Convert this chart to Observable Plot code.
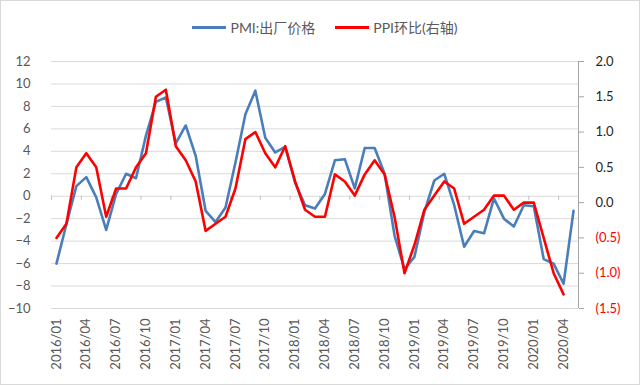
<!DOCTYPE html>
<html>
<head>
<meta charset="utf-8">
<script src="https://cdn.jsdelivr.net/npm/d3@7"></script>
<script src="https://cdn.jsdelivr.net/npm/@observablehq/plot@0.6"></script>
<style>
  html, body { margin: 0; padding: 0; background: #fff; }
  #wrap { position: relative; width: 640px; height: 385px; overflow: hidden; font-family: Lato, "Noto Sans CJK SC", sans-serif; }
  #border { position: absolute; left: 0; top: 0; width: 640px; height: 385px; box-sizing: border-box; border: 1px solid #d9d9d9; pointer-events: none; }
  #legend { position: absolute; top: 17px; left: 0; width: 650px; display: flex; justify-content: center; gap: 20px; font-size: 14px; color: #595959; }
  .item { display: flex; align-items: center; gap: 4px; }
  .sw { display: inline-block; width: 34px; height: 3px; }
</style>
</head>
<body>
<div id="wrap">
  <div id="legend"></div>
  <div id="border"></div>
</div>
<script>
const months = ["2016/01","2016/02","2016/03","2016/04","2016/05","2016/06","2016/07","2016/08","2016/09","2016/10","2016/11","2016/12",
"2017/01","2017/02","2017/03","2017/04","2017/05","2017/06","2017/07","2017/08","2017/09","2017/10","2017/11","2017/12",
"2018/01","2018/02","2018/03","2018/04","2018/05","2018/06","2018/07","2018/08","2018/09","2018/10","2018/11","2018/12",
"2019/01","2019/02","2019/03","2019/04","2019/05","2019/06","2019/07","2019/08","2019/09","2019/10","2019/11","2019/12",
"2020/01","2020/02","2020/03","2020/04","2020/05"];

// PMI: 出厂价格 (left axis)
const pmi = [-6.0,-2.5,0.9,1.7,-0.1,-3.0,0.2,2.0,1.6,5.4,8.4,8.8,
4.7,6.3,3.6,-1.3,-2.3,-1.0,3.0,7.3,9.4,5.2,3.9,4.4,
1.2,-0.8,-1.1,0.2,3.2,3.3,0.7,4.3,4.3,2.0,-3.5,-6.5,
-5.4,-1.4,1.4,2.0,-0.8,-4.5,-3.1,-3.3,-0.2,-2.0,-2.7,-0.8,
-0.9,-5.6,-6.0,-7.8,-1.3];

// PPI 环比 (right axis)
const ppi = [-0.5,-0.3,0.5,0.7,0.5,-0.2,0.2,0.2,0.5,0.7,1.5,1.6,
0.8,0.6,0.3,-0.4,-0.3,-0.2,0.2,0.9,1.0,0.7,0.5,0.8,
0.3,-0.1,-0.2,-0.2,0.4,0.3,0.1,0.4,0.6,0.4,-0.2,-1.0,
-0.6,-0.1,0.1,0.3,0.2,-0.3,-0.2,-0.1,0.1,0.1,-0.1,0.0,
0.0,-0.5,-1.0,-1.3];

const leftTicks = [-10,-8,-6,-4,-2,0,2,4,6,8,10,12];
const rightTicks = [-1.5,-1.0,-0.5,0.0,0.5,1.0,1.5,2.0];
const seriesNames = ["PMI:出厂价格", "PPI环比(右轴)"];
const colors = ["#4a7ebb", "#ff0000"];

const L0 = leftTicks[0], L1 = leftTicks[leftTicks.length - 1];
const R0 = rightTicks[0], R1 = rightTicks[rightTicks.length - 1];
const toLeft = r => L0 + (r - R0) * (L1 - L0) / (R1 - R0);
const fromLeft = v => R0 + (v - L0) * (R1 - R0) / (L1 - L0);
const fmtRight = v => { const r = Math.round(fromLeft(v) * 10) / 10; return r < 0 ? "(" + Math.abs(r).toFixed(1) + ")" : r.toFixed(1); };

const pmiRows = pmi.map((v, i) => ({i, v}));
const ppiRows = ppi.map((r, i) => ({i, v: toLeft(r)}));
const labelIdx = months.map((m, i) => i).filter(i => i % 3 === 0);
const boundaries = labelIdx.map(i => i - 0.5);

const chart = Plot.plot({
  width: 640,
  height: 385,
  marginLeft: 51,
  marginRight: 62,
  marginTop: 61,
  marginBottom: 77,
  style: {fontFamily: 'Lato, "Noto Sans CJK SC", sans-serif', fontSize: "13px", background: "transparent"},
  x: {type: "linear", domain: [-0.5, months.length - 0.5], axis: null, label: null},
  y: {domain: [L0, L1], axis: null, label: null},
  marks: [
    Plot.gridY(leftTicks, {stroke: "#d9d9d9", strokeOpacity: 1}),
    Plot.ruleX([months.length - 0.5], {stroke: "#a6a6a6"}),
    Plot.ruleX(boundaries, {x: d => d, y1: 0, y2: -0.36, stroke: "#bfbfbf"}),
    Plot.axisY(leftTicks, {anchor: "left", label: null, tickSize: 0, tickPadding: 21, fill: "#595959", fontSize: 13}),
    Plot.axisY(rightTicks.filter(r => r >= 0).map(toLeft), {anchor: "right", label: null, tickSize: 5, tickPadding: 12, stroke: "#a6a6a6", fill: "#262626", textAnchor: "start", tickFormat: fmtRight, fontSize: 13}),
    Plot.axisY(rightTicks.filter(r => r < 0).map(toLeft), {anchor: "right", label: null, tickSize: 5, tickPadding: 12, stroke: "#a6a6a6", fill: "#ff0000", textAnchor: "start", tickFormat: fmtRight, fontSize: 13}),
    Plot.axisX(labelIdx, {anchor: "bottom", label: null, tickSize: 0, tickPadding: 10, tickRotate: -90, tickFormat: i => months[i], fill: "#595959", fontSize: 13}),
    Plot.lineY(pmiRows, {x: "i", y: "v", stroke: colors[0], strokeWidth: 2.6, strokeLinejoin: "round"}),
    Plot.lineY(ppiRows, {x: "i", y: "v", stroke: colors[1], strokeWidth: 2.6, strokeLinejoin: "round"})
  ]
});
const wrap = document.getElementById("wrap");
wrap.insertBefore(chart, wrap.firstChild);
chart.style.position = "absolute"; chart.style.left = "0"; chart.style.top = "0";

const legend = document.getElementById("legend");
seriesNames.forEach((n, k) => {
  const it = document.createElement("div"); it.className = "item";
  const sw = document.createElement("span"); sw.className = "sw"; sw.style.background = colors[k];
  const t = document.createElement("span"); t.textContent = n;
  it.appendChild(sw); it.appendChild(t); legend.appendChild(it);
});
</script>
</body>
</html>
